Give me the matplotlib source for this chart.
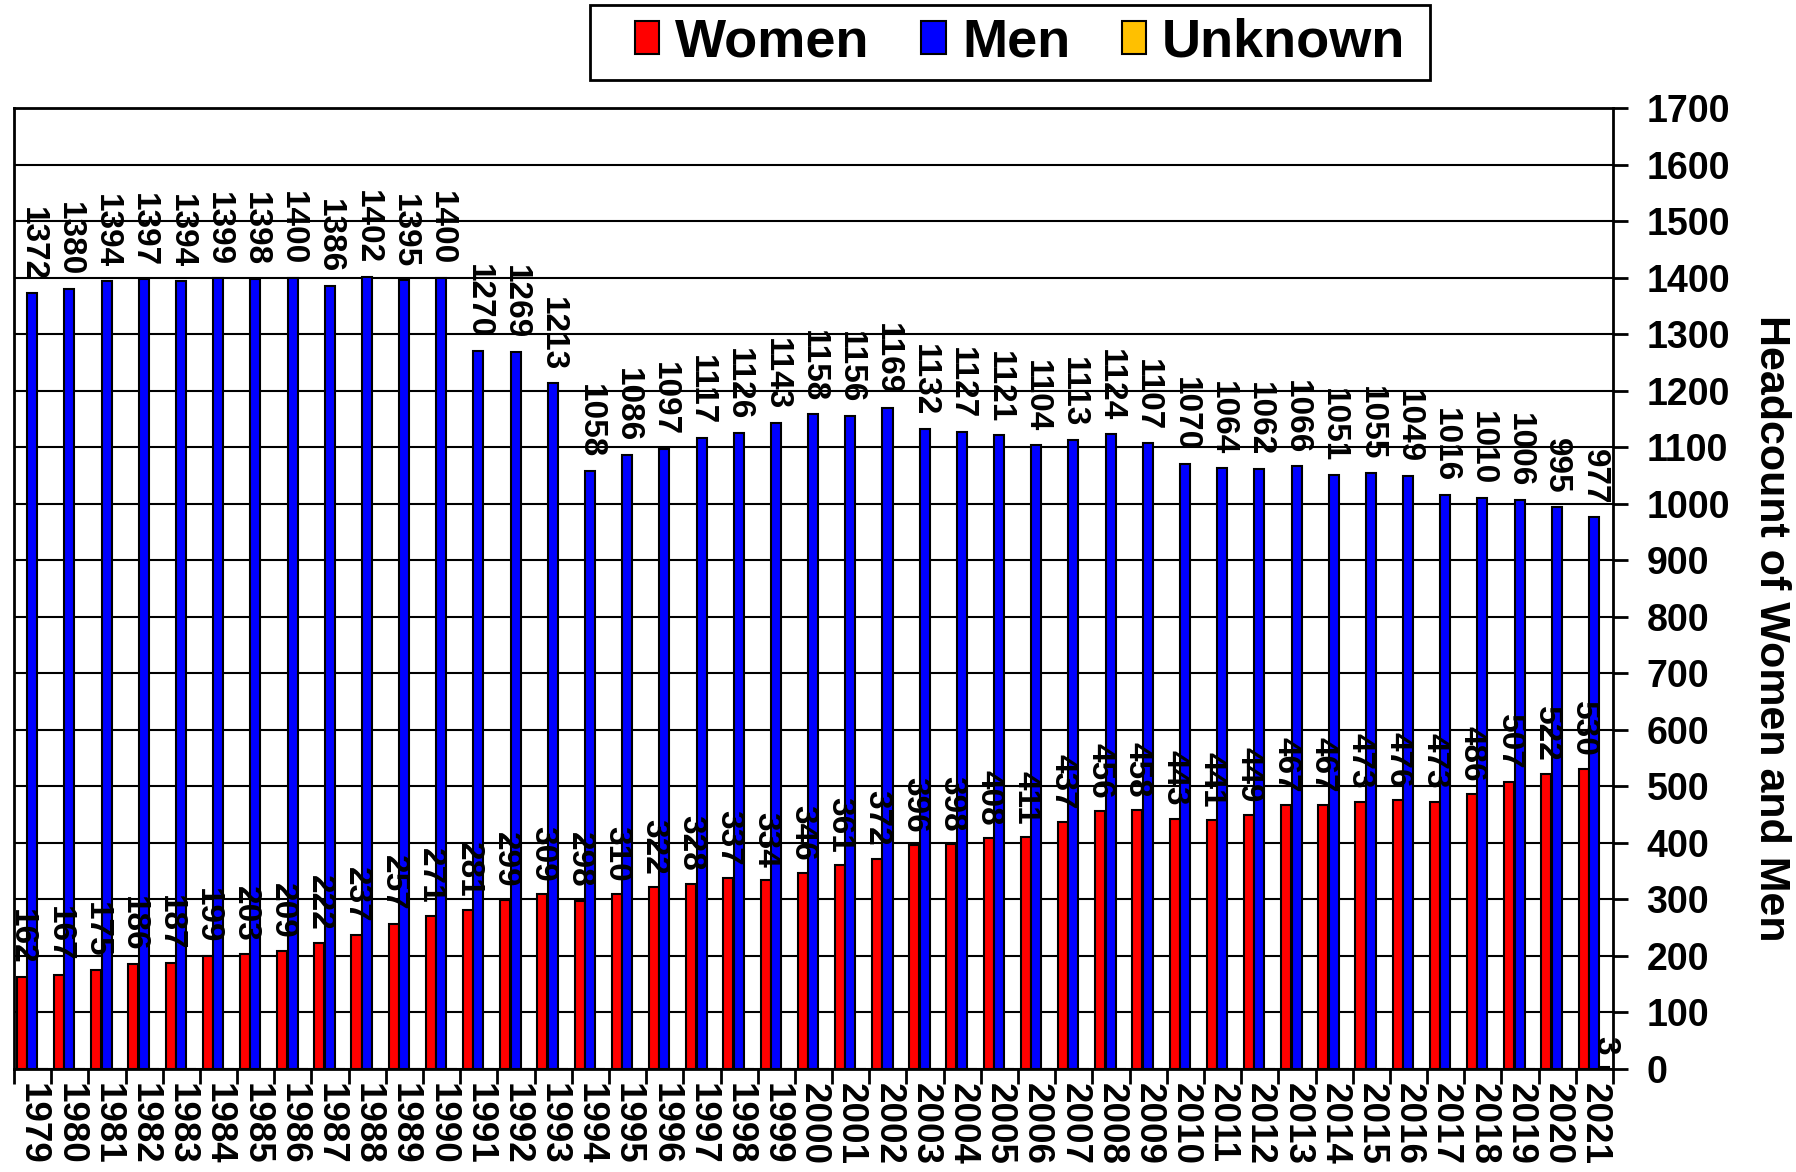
import numpy as np
import matplotlib
matplotlib.use("Agg")
import matplotlib.pyplot as plt
from matplotlib.patches import Rectangle

years = list(range(1979, 2022))
women = [162, 167, 175, 186, 187, 199, 203, 209, 222, 237, 257, 271, 281, 299, 309,
         298, 310, 322, 328, 337, 334, 346, 361, 372, 396, 398, 408, 411, 437, 456,
         458, 443, 441, 449, 467, 467, 473, 476, 473, 486, 507, 522, 530]
men = [1372, 1380, 1394, 1397, 1394, 1399, 1398, 1400, 1386, 1402, 1395, 1400, 1270,
       1269, 1213, 1058, 1086, 1097, 1117, 1126, 1143, 1158, 1156, 1169, 1132, 1127,
       1121, 1104, 1113, 1124, 1107, 1070, 1064, 1062, 1066, 1051, 1055, 1049, 1016,
       1010, 1006, 995, 977]
unknown = [0] * 42 + [3]

plt.rcParams['font.family'] = ['Liberation Sans', 'DejaVu Sans']
plt.rcParams['font.weight'] = 'bold'

fig = plt.figure(figsize=(17.96, 11.72), dpi=100)
ax = fig.add_axes([0.0078, 0.0879, 0.8903, 0.8199])

x = np.arange(len(years))
w = 0.27
series = [(women, '#ff0000', 'Women', -0.29),
          (men, '#0000ff', 'Men', -0.01),
          (unknown, '#ffc000', 'Unknown', 0.27)]

for vals, col, name, off in series:
    ax.bar(x + off, vals, width=w, color=col, edgecolor='black', linewidth=1.5,
           label=name, zorder=3)
    for xi, v in zip(x, vals):
        if v > 0:
            ax.annotate(str(v), (xi + off, v), xytext=(0, 9), textcoords='offset points',
                        rotation=270, ha='center', va='bottom', fontsize=24,
                        fontweight='bold', zorder=4)

ax.set_xlim(-0.5, len(years) - 0.5)
ax.set_ylim(0, 1700)

# x ticks at category boundaries, labels at centers
ax.set_xticks(np.arange(len(years) + 1) - 0.5)
ax.set_xticklabels([])
ax.set_xticks(x, minor=True)
ax.set_xticklabels([str(y) for y in years], minor=True, rotation=270,
                   fontsize=26.5, fontweight='bold')
ax.tick_params(axis='x', which='major', length=11, width=2, direction='out')
ax.tick_params(axis='x', which='minor', length=0, pad=10)

ax.yaxis.tick_right()
ax.yaxis.set_label_position('right')
ax.set_yticks(np.arange(0, 1701, 100))
ax.tick_params(axis='y', length=11, width=2, direction='out', labelsize=27, pad=13)
for lbl in ax.get_yticklabels():
    lbl.set_fontweight('bold')
ax.set_ylabel('Headcount of Women and Men', rotation=270, fontsize=31,
              fontweight='bold')
ax.yaxis.set_label_coords(1.099, 0.459)
ax.yaxis.label.set_rotation_mode('default')
ax.yaxis.label.set_ha('center')
ax.yaxis.label.set_va('center')

ax.grid(axis='y', color='black', linewidth=1.5, zorder=0)
ax.set_axisbelow(True)
for s in ax.spines.values():
    s.set_linewidth(2)
    s.set_color('black')

# legend box drawn separately so the side padding can be wider than the top/bottom
fig.patches.append(Rectangle((590 / 1796, 1 - 80 / 1172), 840 / 1796, 75 / 1172,
                             transform=fig.transFigure, facecolor='white',
                             edgecolor='black', linewidth=2))
leg = fig.legend(loc='center', bbox_to_anchor=(0.5680, 0.964), ncol=3,
                 fontsize=39, frameon=False,
                 handlelength=0.45, handleheight=0.56, handletextpad=0.3,
                 columnspacing=0.95, borderpad=0.0)
for t in leg.get_texts():
    t.set_fontweight('bold')

fig.savefig('out.png', dpi=100)
